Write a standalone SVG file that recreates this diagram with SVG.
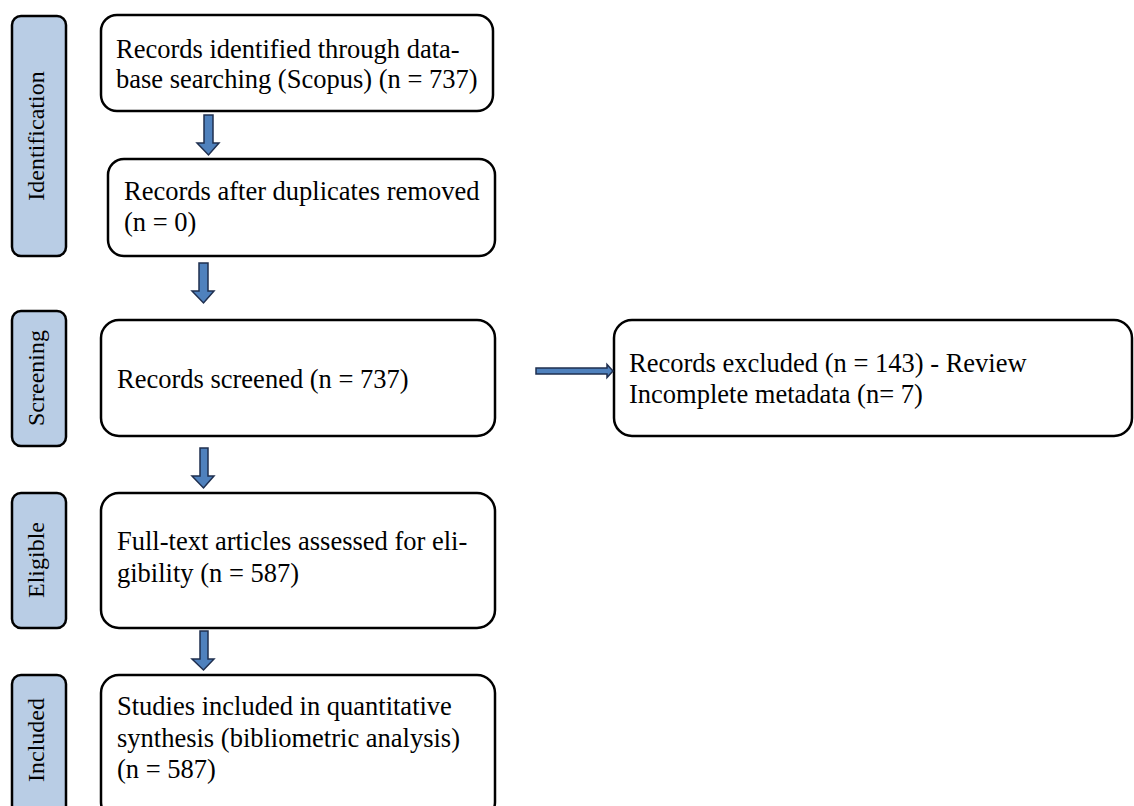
<svg xmlns="http://www.w3.org/2000/svg" width="1134" height="806" viewBox="0 0 1134 806">
<style>
.box{fill:#fff;stroke:#000;stroke-width:2.5}
.side{fill:#B9CDE5;stroke:#000;stroke-width:2.5}
.t{font-family:"Liberation Serif",serif;font-size:26.5px;fill:#000}
.s{font-family:"Liberation Serif",serif;font-size:24px;fill:#000;text-anchor:middle}
.arr{fill:#4F81BD;stroke:#1F2F4F;stroke-width:1.5}
</style>
<rect width="1134" height="806" fill="#fff"/>
<g id="stage-identification"><rect class="side" x="12" y="16" width="54" height="240" rx="9"/><text class="s" transform="translate(44,136) rotate(-90)">Identification</text></g>
<g id="stage-screening"><rect class="side" x="12" y="311" width="54" height="135" rx="9"/><text class="s" transform="translate(44,378) rotate(-90)">Screening</text></g>
<g id="stage-eligible"><rect class="side" x="12" y="493" width="54" height="135" rx="9"/><text class="s" transform="translate(44,560) rotate(-90)">Eligible</text></g>
<g id="stage-included"><rect class="side" x="12" y="675" width="54" height="145" rx="9"/><text class="s" transform="translate(44,740) rotate(-90)">Included</text></g>
<g id="n1"><rect class="box" x="101" y="15" width="392" height="96" rx="16"/><text class="t" x="116" y="58">Records identified through data-</text><text class="t" x="116" y="88">base searching (Scopus) (n = 737)</text></g>
<g id="n2"><rect class="box" x="108" y="159" width="387" height="97" rx="16"/><text class="t" x="124" y="200">Records after duplicates removed</text><text class="t" x="124" y="231">(n = 0)</text></g>
<g id="n3"><rect class="box" x="101" y="320" width="394" height="116" rx="18"/><text class="t" x="117" y="388">Records screened (n = 737)</text></g>
<g id="n4"><rect class="box" x="614" y="320" width="518" height="116" rx="18"/><text class="t" x="629" y="372">Records excluded (n = 143) - Review</text><text class="t" x="629" y="403">Incomplete metadata (n= 7)</text></g>
<g id="n5"><rect class="box" x="101" y="493" width="394" height="135" rx="18"/><text class="t" x="117" y="550">Full-text articles assessed for eli-</text><text class="t" x="117" y="582">gibility (n = 587)</text></g>
<g id="n6"><rect class="box" x="101" y="675" width="394" height="145" rx="18"/><text class="t" x="117" y="715">Studies included in quantitative</text><text class="t" x="117" y="747">synthesis (bibliometric analysis)</text><text class="t" x="117" y="778">(n = 587)</text></g>
<g id="connectors">
<path class="arr" d="M204,115 H213 V143 H219 L208.5,155 L197,143 H204 Z"/>
<path class="arr" d="M199,263 H208 V291 H214 L203.5,303 L192,291 H199 Z"/>
<path class="arr" d="M200,448 H208 V476 H214 L203.5,488 L192,476 H200 Z"/>
<path class="arr" d="M200,631 H208 V659 H214 L203.5,670 L192,659 H200 Z"/>
<path class="arr" d="M536,368 H607 V364.5 L613,371 L607,377.5 V374 H536 Z"/>
</g>
</svg>
